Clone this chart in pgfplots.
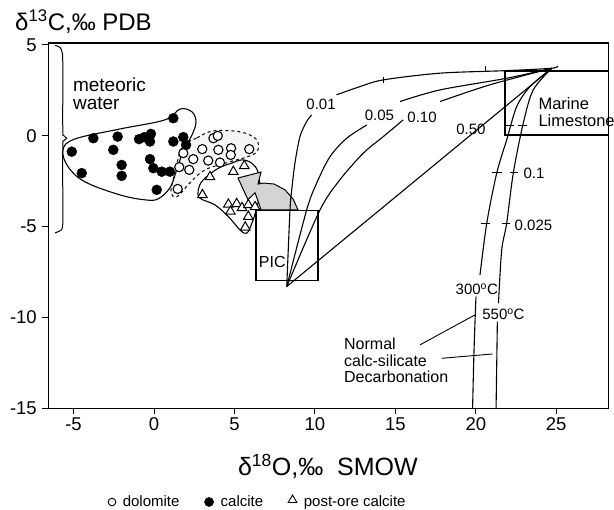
\documentclass[border=0pt]{standalone}
\usepackage{fontspec}
\setmainfont{Liberation Sans}
\usepackage{pgfplots}
\pgfplotsset{compat=1.18}
\begin{document}
\begin{tikzpicture}
\useasboundingbox (-48.3pt,-101.7pt) rectangle (565.7pt,408.3pt);
\begin{axis}[
  at={(0pt,0pt)}, anchor=south west,
  scale only axis, width=560.4pt, height=365.3pt,
  xmin=-6.57, xmax=28.26, ymin=-15, ymax=5.1,
  xtick={-5,0,5,10,15,20,25}, xticklabels={-5,0,5,10,15,20,25},
  ytick={-15,-10,-5,0,5}, yticklabels={-15,-10,-5,0,5},
  tick align=outside, xtick pos=bottom, ytick pos=left,
  major tick length=6pt,
  tick style={black, line width=0.9pt},
  axis line style={line width=1.4pt},
  tick label style={font=\fontsize{18.5}{20}\selectfont},
  yticklabel style={xshift=-2pt},
  clip=false,
  legend columns=-1,
  legend style={draw=none, fill=none, at={(0.374,-0.2565)}, anchor=center,
    font=\fontsize{15}{17}\selectfont,
    /tikz/every odd column/.append style={column sep=5pt},
    /tikz/every even column/.append style={column sep=23pt}},
  legend image code/.code={\draw[#1] plot coordinates {(0pt,0pt)};},
]
% regions
\addplot[forget plot, smooth cycle, tension=0.6, dashed, line width=1pt, fill=black!4] coordinates {
(1.80,-0.56) (2.67,-0.12) (3.67,0.26) (5.34,0.21) (6.34,-0.18) (6.46,-0.78) (5.97,-1.11) (4.72,-1.44) (3.17,-1.88) (2.24,-2.59) (1.43,-3.36) (1.06,-3.14) (1.18,-2.43) (1.43,-1.50)};
\addplot[forget plot, smooth cycle, tension=0.6, line width=1.1pt] coordinates {
(-5.66,-0.78) (-4.91,-0.18) (-2.11,0.37) (0.68,0.87) (1.62,1.47) (2.36,1.31) (2.61,0.76) (2.36,0.04) (1.80,-0.89) (1.37,-1.99) (0.99,-2.87) (0.25,-3.48) (-0.56,-3.53) (-2.11,-3.26) (-4.29,-2.54) (-5.34,-1.71)};
\addplot[forget plot, smooth cycle, tension=0.6, line width=1.1pt, fill=white] coordinates {
(5.45,-1.33) (6.07,-1.51) (6.46,-1.99) (6.59,-2.98) (6.40,-3.92) (6.09,-4.80) (5.76,-5.37) (5.34,-5.18) (4.62,-4.45) (3.79,-3.81) (2.86,-3.44) (2.75,-2.98) (3.06,-2.43) (4.00,-1.79) (4.83,-1.51)};
% meteoric water brace
\addplot[forget plot, smooth, tension=0.5, line width=1pt] coordinates {
(-6.15,4.97) (-5.84,4.86) (-5.69,4.50) (-5.67,3.5) (-5.67,0.32) (-5.62,0.02) (-5.41,-0.14)};
\addplot[forget plot, smooth, tension=0.5, line width=1pt] coordinates {
(-5.41,-0.14) (-5.62,-0.29) (-5.67,-0.62) (-5.67,-4.0) (-5.67,-4.85) (-5.75,-5.18) (-6.15,-5.35)};
% gray arrow
\addplot[forget plot, fill=black!17, draw=black, line width=1pt] coordinates {
(8.95,-4.08) (8.64,-3.48) (8.14,-2.98) (7.46,-2.66) (6.84,-2.61) (6.46,-2.66) (6.65,-2.00) (5.22,-2.33) (5.84,-3.52) (6.28,-3.14) (6.46,-3.58) (6.65,-4.08)} -- cycle;
% boxes
\addplot[forget plot, line width=1.8pt] coordinates {(6.35,-4.12) (10.2,-4.12) (10.2,-7.97) (6.35,-7.97)} -- cycle;
\addplot[forget plot, line width=1.8pt] coordinates {(28.26,3.58) (21.8,3.58) (21.8,0.04) (28.26,0.04)};
% mixing curves
\addplot[forget plot, smooth, tension=0.5, line width=1.1pt] coordinates {
(8.25,-8.30) (8.45,-4.12) (8.56,-2.98) (8.76,-1.51) (9.07,-0.05) (9.49,0.78) (9.80,1.14)};
\addplot[forget plot, smooth, tension=0.5, line width=1.1pt] coordinates {
(11.35,2.25) (12.80,2.70) (14.25,3.07) (17.78,3.44) (21.92,3.58) (24.72,3.71) (25.1,3.85)};
\addplot[forget plot, smooth, tension=0.5, line width=1.1pt] coordinates {
(8.25,-8.30) (9.49,-4.08) (10.11,-2.61) (10.94,-1.15) (11.98,-0.14) (13.22,0.59)};
\addplot[forget plot, smooth, tension=0.5, line width=1.1pt] coordinates {
(15.29,1.88) (17.78,2.52) (21.92,3.16) (24.72,3.71)};
\addplot[forget plot, smooth, tension=0.5, line width=1.1pt] coordinates {
(8.25,-8.30) (10.32,-4.08) (11.56,-2.42) (13.01,-0.96) (14.25,-0.05) (15.49,0.87)};
\addplot[forget plot, smooth, tension=0.5, line width=1.1pt] coordinates {
(17.78,1.88) (20.88,2.80) (24.72,3.71)};
\addplot[forget plot, line width=1.1pt] coordinates {(8.25,-8.30) (24.72,3.71)};
% decarbonation curves
\addplot[forget plot, smooth, tension=0.5, line width=1.1pt] coordinates {
(24.72,3.71) (23.37,2.70) (22.54,1.60) (21.92,-0.23) (21.30,-2.06) (20.68,-4.82) (20.26,-7.66)};
\addplot[forget plot, smooth, tension=0.5, line width=1.1pt] coordinates {
(20.01,-8.86) (19.89,-11.79) (19.8,-15)};
\addplot[forget plot, smooth, tension=0.5, line width=1.1pt] coordinates {
(24.72,3.71) (23.57,2.52) (22.95,0.69) (22.33,-2.06) (21.92,-4.82) (21.61,-6.29) (21.41,-9.22)};
\addplot[forget plot, smooth, tension=0.5, line width=1.1pt] coordinates {
(21.34,-10.23) (21.26,-15)};
% small tick marks
\addplot[forget plot, line width=0.9pt] coordinates {(21.8,0.54) (22.4,0.54)};
\addplot[forget plot, line width=0.9pt] coordinates {(22.6,0.54) (23.2,0.54)};
\addplot[forget plot, line width=0.9pt] coordinates {(21.0,-2.03) (21.6,-2.03)};
\addplot[forget plot, line width=0.9pt] coordinates {(22.1,-2.03) (22.6,-2.03)};
\addplot[forget plot, line width=0.9pt] coordinates {(20.3,-4.82) (20.9,-4.82)};
\addplot[forget plot, line width=0.9pt] coordinates {(21.6,-4.82) (22.1,-4.82)};
\addplot[forget plot, line width=0.9pt] coordinates {(14.29,2.89) (14.29,3.25)};
\addplot[forget plot, line width=0.9pt] coordinates {(20.57,3.53) (20.57,3.84)};
% leader lines
\addplot[forget plot, line width=0.9pt] coordinates {(16.53,-11.51) (19.95,-9.86)};
\addplot[forget plot, line width=0.9pt] coordinates {(17.88,-12.25) (21.05,-12.01)};
% data: calcite
\addplot[forget plot, only marks, mark=*, mark size=5pt, mark options={fill=black, draw=black}] coordinates {
(1.20,0.96) (-3.77,-0.14) (-2.26,-0.05) (-0.93,-0.19) (-0.60,-0.08) (-0.19,0.10) (-0.25,-0.32) (1.20,-0.32) (1.82,-0.08) (1.99,-0.51)
(-5.11,-0.88) (-2.53,-0.78) (-0.25,-1.29) (-2.01,-1.61) (-2.01,-2.21) (-4.49,-2.06) (-0.04,-1.79) (0.48,-1.98) (0.99,-1.98) (0.17,-2.98)};
% dolomite
\addplot[forget plot, only marks, mark=*, mark size=4.6pt, mark options={fill=white, draw=black, line width=1.1pt}] coordinates {
(1.82,-0.96) (2.44,-1.29) (1.57,-1.73) (2.19,-1.88) (1.47,-2.93) (3.00,-0.74) (3.69,-0.14) (3.96,-0.01) (4.00,-0.78) (4.79,-0.69) (4.77,-1.06) (3.37,-1.37) (4.10,-1.48) (5.92,-0.74)};
% post-ore calcite
\addplot[forget plot, only marks, mark=triangle*, mark size=5.5pt, mark options={fill=white, draw=black, line width=1pt}] coordinates {
(5.61,-1.66) (4.93,-1.98) (3.48,-2.27) (3.01,-3.26) (4.62,-3.78) (5.14,-3.75) (5.47,-3.97) (4.75,-4.17) (5.86,-3.81) (6.28,-3.92) (5.86,-4.45) (5.67,-5.04)};
% legend
\addlegendimage{only marks, mark=*, mark size=3.8pt, mark options={fill=white, draw=black, line width=0.9pt}}
\addlegendentry{dolomite}
\addlegendimage{only marks, mark=*, mark size=4.6pt, mark options={fill=black}}
\addlegendentry{calcite}
\addlegendimage{only marks, mark=triangle, mark size=5pt, mark options={draw=black, line width=0.9pt, yshift=2pt}}
\addlegendentry{post-ore calcite}
% text
\node[anchor=west, align=left, font=\fontsize{19}{18.5}\selectfont] at (axis cs:-5.25,2.30) {meteoric\\water};
\node[anchor=west, align=left, font=\fontsize{16.5}{16.7}\selectfont] at (axis cs:23.68,1.28) {Marine\\Limestone};
\node[anchor=west, font=\fontsize{16}{18}\selectfont] at (axis cs:6.3,-6.95) {PIC};
\node[anchor=west, align=left, font=\fontsize{16}{16.5}\selectfont] at (axis cs:11.6,-12.38) {Normal\\calc-silicate\\Decarbonation};
\node[font=\fontsize{15}{17}\selectfont] at (axis cs:10.38,1.70) {0.01};
\node[font=\fontsize{15}{17}\selectfont] at (axis cs:14.01,1.14) {0.05};
\node[font=\fontsize{15}{17}\selectfont] at (axis cs:16.66,1.01) {0.10};
\node[font=\fontsize{15}{17}\selectfont] at (axis cs:19.70,0.37) {0.50};
\node[anchor=west, font=\fontsize{15}{17}\selectfont] at (axis cs:22.75,-2.06) {0.1};
\node[anchor=west, font=\fontsize{15}{17}\selectfont] at (axis cs:22.2,-4.91) {0.025};
\node[font=\fontsize{15}{17}\selectfont] at (axis cs:20.06,-8.47) {300\textsuperscript{o}C};
\node[font=\fontsize{15}{17}\selectfont] at (axis cs:21.72,-9.81) {550\textsuperscript{o}C};
\node[anchor=base west, font=\fontsize{24}{26}\selectfont, inner sep=0pt] at (rel axis cs:-0.0594,1.0329) {δ\textsuperscript{13}C,‰ PDB};
\node[font=\fontsize{25}{27}\selectfont] at (rel axis cs:0.499,-0.158) {δ\textsuperscript{18}O,‰\ \ SMOW};
\end{axis}
\end{tikzpicture}
\end{document}
